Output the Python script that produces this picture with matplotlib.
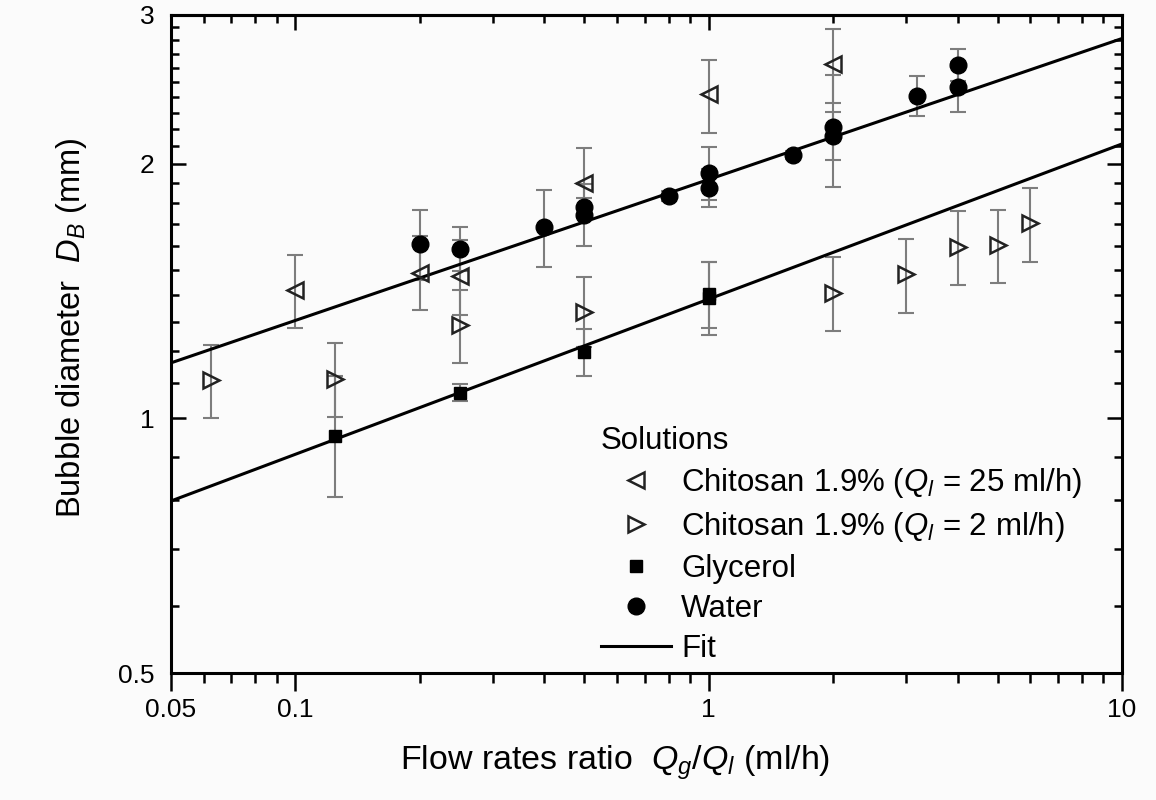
import numpy as np
import matplotlib
matplotlib.use('Agg')
import matplotlib.pyplot as plt
from matplotlib.ticker import FixedLocator, FixedFormatter, NullFormatter

# ---------------- data ----------------
ch25_x = [0.1, 0.2, 0.25, 0.5, 1, 2]
ch25_y = [1.419, 1.486, 1.474, 1.899, 2.420, 2.627]
ch25_lo = [1.279, 1.344, 1.325, 1.726, 2.176, 2.362]
ch25_hi = [1.561, 1.643, 1.625, 2.089, 2.656, 2.889]

ch2_x = [0.0625, 0.125, 0.25, 0.5, 2, 3, 4, 5, 6]
ch2_y = [1.110, 1.113, 1.289, 1.336, 1.407, 1.482, 1.595, 1.604, 1.702]
ch2_lo = [1.001, 1.004, 1.163, 1.214, 1.269, 1.332, 1.438, 1.446, 1.531]
ch2_hi = [1.221, 1.228, 1.419, 1.470, 1.552, 1.630, 1.760, 1.765, 1.874]

gly_x = [0.125, 0.25, 0.5, 1, 1]
gly_y = [0.953, 1.071, 1.198, 1.403, 1.388]
gly_lo = [0.807, 1.048, 1.122, 1.279, 1.255]
gly_hi = [1.122, 1.098, 1.276, 1.531, 1.531]

wat_x = [0.2, 0.25, 0.4, 0.5, 0.5, 0.8, 1, 1, 1.6, 2, 2, 3.2, 4, 4]
wat_y = [1.608, 1.586, 1.684, 1.779, 1.740, 1.833, 1.951, 1.874, 2.049,
         2.212, 2.159, 2.407, 2.619, 2.466]
wat_lo = [1.458, 1.494, 1.511, 1.736, 1.599, 1.808, 1.813, 1.779, 2.027,
          1.878, 2.022, 2.280, 2.507, 2.305]
wat_hi = [1.765, 1.684, 1.863, 1.823, 1.894, 1.858, 2.095, 1.973, 2.072,
          2.549, 2.305, 2.542, 2.736, 2.641]

# power-law fits  D = a * x**n  (water, glycerol)
fit_coef = [1.917, 1.384]
fit_exp = [0.1667, 0.1835]
fit_xrange = [0.05, 10]

labels = [r'Chitosan 1.9% ($Q_l$ = 25 ml/h)',
          r'Chitosan 1.9% ($Q_l$ = 2 ml/h)',
          'Glycerol', 'Water', 'Fit']

x_major = [0.05, 0.1, 1, 10]
x_major_lbl = ['0.05', '0.1', '1', '10']
y_major = [0.5, 1, 2, 3]
y_major_lbl = ['0.5', '1', '2', '3']

# ---------------- style ----------------
plt.rcParams['font.family'] = ['Liberation Sans', 'DejaVu Sans']
plt.rcParams['mathtext.fontset'] = 'custom'
plt.rcParams['mathtext.rm'] = 'Liberation Sans'
plt.rcParams['mathtext.it'] = 'Liberation Sans:italic'
plt.rcParams['mathtext.bf'] = 'Liberation Sans:bold'

bg = '#fbfbfb'
fig = plt.figure(figsize=(11.56, 8.0), dpi=100, facecolor=bg)
L, R, T, B = 171, 1122, 15, 673
ax = fig.add_axes([L / 1156, 1 - B / 800, (R - L) / 1156, (B - T) / 800])
ax.set_facecolor(bg)
ax.set_xscale('log')
ax.set_yscale('log')
ax.set_xlim(0.05, 10)
ax.set_ylim(0.5, 3)

ecol = '#7d7d7d'
ekw = dict(fmt='none', ecolor=ecol, elinewidth=1.5, capsize=6, capthick=1.5, zorder=2)


def err(y, lo, hi):
    y = np.asarray(y); lo = np.asarray(lo); hi = np.asarray(hi)
    return [y - lo, hi - y]


ax.errorbar(ch25_x, ch25_y, yerr=err(ch25_y, ch25_lo, ch25_hi), **ekw)
ax.errorbar(ch2_x, ch2_y, yerr=err(ch2_y, ch2_lo, ch2_hi), **ekw)
ax.errorbar(gly_x, gly_y, yerr=err(gly_y, gly_lo, gly_hi), **ekw)
ax.errorbar(wat_x, wat_y, yerr=err(wat_y, wat_lo, wat_hi), **ekw)

xf = np.geomspace(fit_xrange[0], fit_xrange[1], 200)
fit_lines = []
for a, n in zip(fit_coef, fit_exp):
    ln, = ax.plot(xf, a * xf ** n, color='black', lw=2.2, zorder=3)
    fit_lines.append(ln)

h1, = ax.plot(ch25_x, ch25_y, ls='none', marker='<', ms=11.5, mfc='none',
              mec='#222222', mew=1.8, zorder=4)
h2, = ax.plot(ch2_x, ch2_y, ls='none', marker='>', ms=11.5, mfc='none',
              mec='#222222', mew=1.8, zorder=4)
h3, = ax.plot(gly_x, gly_y, ls='none', marker='s', ms=8.5, color='black', zorder=4)
h4, = ax.plot(wat_x, wat_y, ls='none', marker='o', ms=12, color='black', zorder=4)

# ---------------- ticks ----------------
ax.xaxis.set_major_locator(FixedLocator(x_major))
ax.xaxis.set_major_formatter(FixedFormatter(x_major_lbl))
xminor = [m * 10.0 ** e for e in (-2, -1, 0) for m in range(2, 10)]
xminor = [v for v in xminor if 0.05 < v < 10 and v not in (0.05, 0.1, 1)]
ax.xaxis.set_minor_locator(FixedLocator(xminor))
ax.xaxis.set_minor_formatter(NullFormatter())

ax.yaxis.set_major_locator(FixedLocator(y_major))
ax.yaxis.set_major_formatter(FixedFormatter(y_major_lbl))
yminor = [0.6, 0.7, 0.8, 0.9] + [round(1 + 0.1 * i, 1) for i in range(1, 10)] + \
         [round(2 + 0.1 * i, 1) for i in range(1, 10)]
ax.yaxis.set_minor_locator(FixedLocator(yminor))
ax.yaxis.set_minor_formatter(NullFormatter())

ax.tick_params(axis='x', which='major', direction='out', length=13, width=1.8,
               labelsize=19, pad=5, bottom=True, top=False)
ax.tick_params(axis='x', which='minor', direction='out', length=7, width=1.8,
               bottom=True, top=False)
ax.tick_params(axis='y', which='major', direction='in', length=11, width=1.8,
               labelsize=19, pad=12, left=True, right=True)
ax.tick_params(axis='y', which='minor', direction='in', length=6, width=1.8,
               left=True, right=True)

top = ax.secondary_xaxis('top')
top.xaxis.set_major_locator(FixedLocator(x_major))
top.xaxis.set_minor_locator(FixedLocator(xminor))
top.xaxis.set_major_formatter(NullFormatter())
top.xaxis.set_minor_formatter(NullFormatter())
top.tick_params(axis='x', which='major', direction='in', length=11, width=1.8)
top.tick_params(axis='x', which='minor', direction='in', length=6, width=1.8)
top.spines['top'].set_linewidth(2.2)

for s in ax.spines.values():
    s.set_linewidth(2.2)

# ---------------- labels ----------------
ax.set_xlabel(r'Flow rates ratio  $Q_g$/$Q_l$ (ml/h)', fontsize=24.5)
ax.xaxis.set_label_coords((615 - L) / (R - L), (B - 744) / (B - T))
ax.set_ylabel(r'Bubble diameter  $D_B$ (mm)', fontsize=23.5)
ax.yaxis.set_label_coords((89 - L) / (R - L), (B - 328) / (B - T))

leg = ax.legend([h1, h2, h3, h4, fit_lines[0]], labels, title='Solutions',
                loc='upper left', bbox_to_anchor=(601 / 1156, 1 - 426 / 800),
                bbox_transform=fig.transFigure, frameon=False, fontsize=22.5,
                title_fontsize=22.5, alignment='left', borderpad=0,
                borderaxespad=0, handlelength=2.25, handletextpad=0.32,
                labelspacing=0.32, numpoints=1)

fig.savefig('out.png', dpi=100, facecolor=bg)
